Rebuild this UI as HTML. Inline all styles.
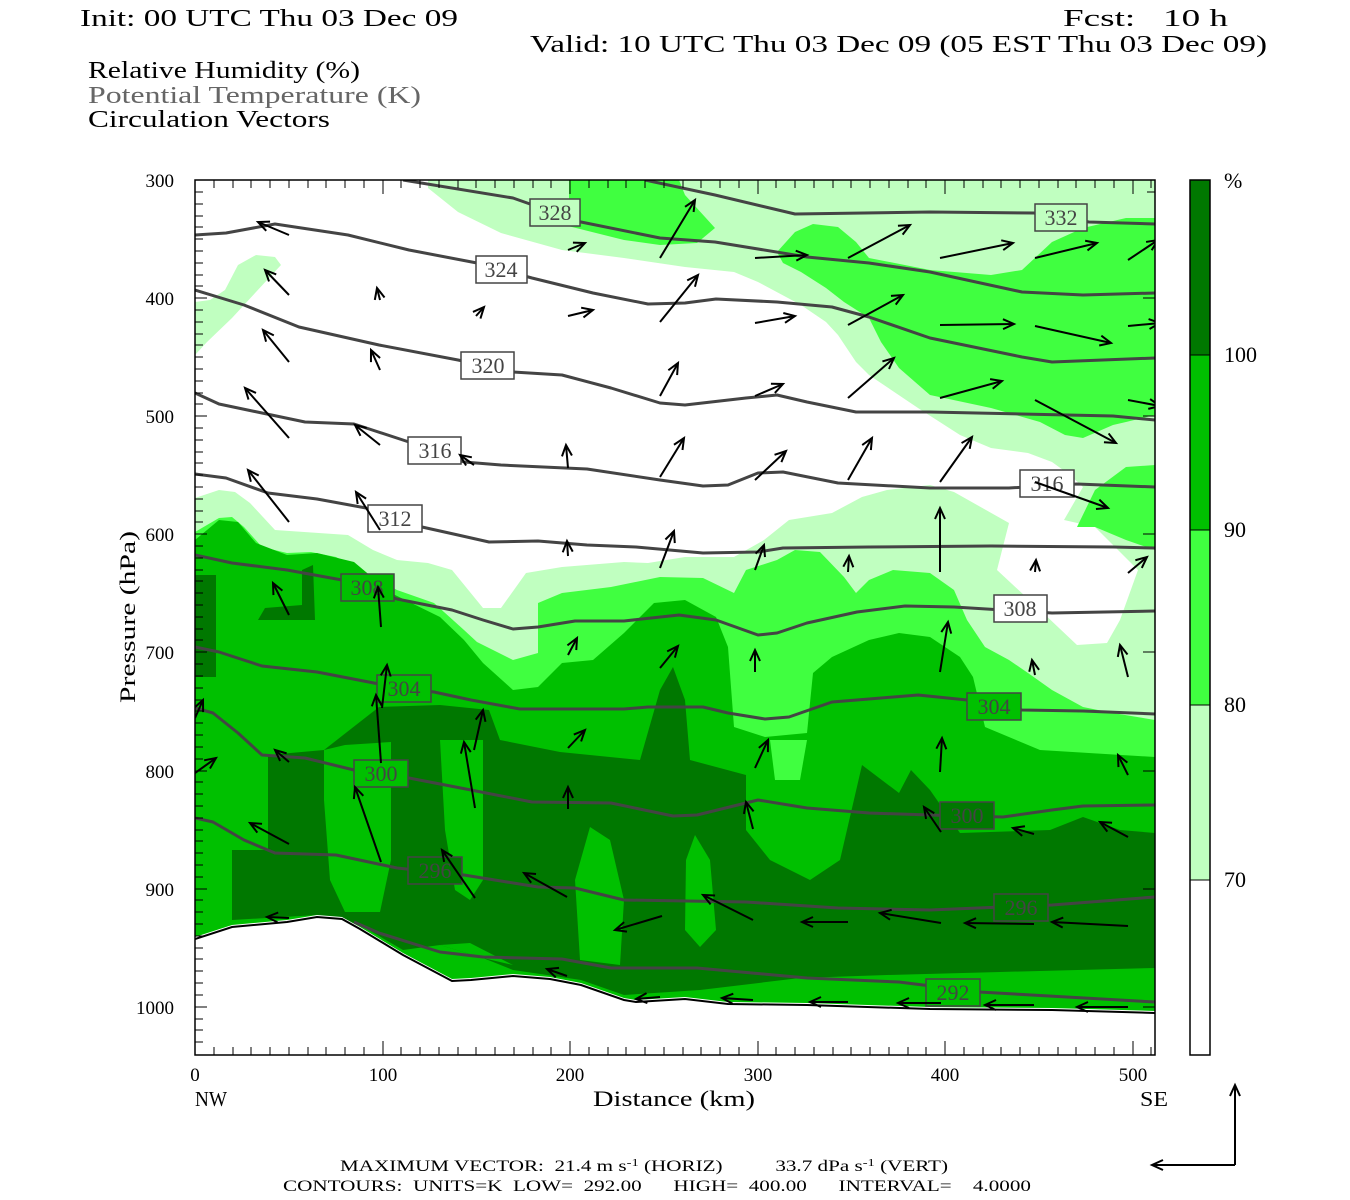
<!DOCTYPE html>
<html><head><meta charset="utf-8"><style>
html,body{margin:0;padding:0;background:#fff;}
svg{display:block;}
text{font-family:"Liberation Serif",serif;fill:#000;}
.lbl{font-size:24px;}
.cl{font-family:"Liberation Serif",serif;font-size:22px;fill:#444;}
.th{fill:none;stroke:#444;stroke-width:3;stroke-linejoin:round;}
.v{stroke:#000;stroke-width:2;fill:none;marker-end:url(#ah);}
</style></head><body>
<svg width="1350" height="1200" viewBox="0 0 1350 1200" xmlns="http://www.w3.org/2000/svg">
<defs>
<marker id="ah" markerUnits="userSpaceOnUse" markerWidth="30" markerHeight="30" refX="15" refY="15" orient="auto">
<path d="M4,10 L15,15 L4,20" fill="none" stroke="#000" stroke-width="2"/>
</marker>
<clipPath id="pc"><rect x="195" y="180" width="960" height="875"/></clipPath>
</defs>

<text class="lbl" x="80" y="26" textLength="378" lengthAdjust="spacingAndGlyphs">Init: 00 UTC Thu 03 Dec 09</text>
<text class="lbl" x="1063" y="26" textLength="165" lengthAdjust="spacingAndGlyphs" xml:space="preserve">Fcst:   10 h</text>
<text class="lbl" x="530" y="52" textLength="737" lengthAdjust="spacingAndGlyphs">Valid: 10 UTC Thu 03 Dec 09 (05 EST Thu 03 Dec 09)</text>
<text class="lbl" x="88" y="78" textLength="272" lengthAdjust="spacingAndGlyphs">Relative Humidity (%)</text>
<text class="lbl" x="88" y="103" textLength="333" lengthAdjust="spacingAndGlyphs" style="fill:#666">Potential Temperature (K)</text>
<text class="lbl" x="88" y="127" textLength="242" lengthAdjust="spacingAndGlyphs">Circulation Vectors</text>

<g clip-path="url(#pc)">
<rect x="195" y="180" width="960" height="875" fill="#c0ffc0"/>
<polygon fill="#fff" points="195,180 428,180 428,188 458,212 501,233 562,250 624,258 685,267 734,272 758,282 801,305 826,322 838,335 856,362 869,375 918,408 960,435 991,448 1028,453 1052,462 1070,475 1083,487 1064,520 1095,527 1138,570 1120,620 1107,643 1077,645 1040,610 997,570 1009,523 954,492 930,485 887,490 862,497 832,513 789,520 764,540 734,557 685,557 648,563 624,562 562,567 526,573 501,608 483,608 452,570 428,563 397,560 373,550 348,535 275,530 250,503 235,492 219,490 195,498 195,355 207,342 232,318 256,292 281,265 275,257 256,255 238,265 225,290 210,300 195,302"/>
<polygon fill="#40ff40" points="569,180 679,180 685,195 715,228 697,243 660,245 624,240 556,223 569,208"/>
<polygon fill="#40ff40" points="777,252 795,232 813,224 838,227 856,242 869,258 930,270 991,275 1022,270 1052,242 1083,228 1126,218 1155,218 1155,415 1126,422 1113,425 1083,438 1065,435 1040,422 991,408 930,395 899,368 881,342 869,318 844,302 826,288 801,272 783,263"/>
<polygon fill="#40ff40" points="1077,527 1095,490 1126,467 1155,465 1155,550 1126,540 1095,527"/>
<polygon fill="#40ff40" points="195,532 219,518 232,517 244,527 262,547 287,553 311,552 336,557 397,590 434,603 464,630 477,642 513,660 538,653 538,603 562,593 611,587 660,577 703,578 734,593 746,570 777,560 795,550 820,552 844,577 856,593 869,580 893,570 930,573 954,590 967,620 985,647 1009,660 1028,673 1052,690 1083,707 1113,713 1155,720 1155,1060 195,1060"/>
<polygon fill="#00c000" points="195,540 219,520 238,522 256,543 287,555 317,553 354,562 391,593 440,617 464,640 483,663 513,690 538,687 562,663 593,660 624,633 654,603 685,600 716,617 728,647 734,727 765,737 807,733 813,673 832,657 869,640 899,633 930,637 960,657 973,677 985,727 1040,750 1089,753 1155,757 1155,1060 195,1060"/>
<polygon fill="#40ff40" points="770,740 807,740 800,780 775,780"/>
<polygon fill="#007800" points="232,920 232,850 268,850 268,755 324,750 379,707 440,705 489,710 500,740 560,752 640,760 660,690 673,667 685,700 690,760 746,775 746,830 770,860 810,880 840,860 862,765 899,793 911,770 930,790 960,833 1050,830 1083,817 1120,830 1155,833 1155,968 1000,972 887,975 800,978 700,990 624,995 581,980 513,970 483,958 440,945 403,950 360,925 317,915"/>
<polygon fill="#007800" points="195,575 216,575 216,677 195,677"/>
<polygon fill="#007800" points="258,620 265,608 302,605 302,570 313,565 315,620"/>
<polygon fill="#00c000" points="324,750 345,745 391,742 391,860 380,912 345,912 330,880 324,800"/>
<polygon fill="#00c000" points="440,740 483,740 483,880 470,900 455,890 445,830"/>
<polygon fill="#00c000" points="590,827 610,840 624,900 620,965 580,960 575,880"/>
<polygon fill="#00c000" points="695,835 710,860 716,930 700,947 685,930 686,860"/>
<polygon fill="#00c000" points="440,945 470,943 513,965 483,958"/>
<polygon fill="#fff" points="195,937 232,925 287,920 317,915 342,917 360,927 403,953 452,979 471,978 513,974 550,977 581,983 624,998 636,1000 685,997 728,1002 807,1003 930,1007 1052,1008 1155,1011 1155,1060 195,1060"/>
<polyline fill="none" stroke="#000" stroke-width="2" points="195,939 232,927 287,922 317,917 342,919 360,929 403,955 452,981 471,980 513,976 550,979 581,985 624,1000 636,1002 685,999 728,1004 807,1005 930,1009 1052,1010 1155,1013"/>

<polyline class="th" points="645,180 715,195 795,214 930,212 1034,213 1089,222 1155,224"/>
<polyline class="th" points="403,180 513,198 581,222 660,238 715,242 807,257 869,263 930,272 1022,292 1083,295 1155,293"/>
<polyline class="th" points="195,235 226,233 275,224 348,235 409,250 477,263 532,278 593,293 648,304 685,303 716,299 777,302 832,307 869,317 930,338 1022,357 1052,362 1155,358"/>
<polyline class="th" points="195,290 244,305 299,327 379,345 458,360 513,372 562,375 611,388 660,403 685,405 746,398 777,395 807,402 856,412 930,412 1113,416 1155,420"/>
<polyline class="th" points="195,393 219,404 305,422 354,424 409,442 435,451 464,462 501,465 587,469 660,480 703,486 728,485 758,473 783,472 838,483 930,488 1009,488 1077,484 1155,487"/>
<polyline class="th" points="195,474 226,478 268,493 317,499 366,508 395,519 422,527 458,535 489,542 538,541 587,545 636,547 703,553 758,552 783,548 869,547 991,546 1113,547 1155,548"/>
<polyline class="th" points="195,555 232,563 287,570 342,580 367,588 397,599 452,610 483,620 513,629 538,627 575,621 624,621 679,615 716,620 758,635 777,633 807,623 857,612 905,606 954,607 1052,613 1155,611"/>
<polyline class="th" points="195,647 219,652 262,666 317,672 379,684 434,692 471,700 520,709 624,709 648,707 703,707 728,713 765,719 789,717 832,702 869,699 918,695 967,700 1022,710 1083,711 1155,714"/>
<polyline class="th" points="195,708 213,713 238,733 262,755 305,758 354,770 409,778 471,790 532,802 611,803 673,816 697,815 758,800 807,808 869,813 930,815 1003,817 1052,810 1083,806 1155,805"/>
<polyline class="th" points="195,818 213,822 244,840 275,853 336,855 397,868 464,875 538,887 575,888 624,900 746,902 838,908 930,910 1052,905 1155,897"/>
<polyline class="th" points="354,922 379,933 440,952 483,957 562,959 611,968 697,968 807,978 899,982 979,992 1155,1002"/>

<g>
<rect x="530" y="199" width="50" height="27" fill="#c0ffc0" stroke="#444" stroke-width="1.5"/><text class="cl" x="555" y="220" text-anchor="middle">328</text>
<rect x="1035" y="204" width="52" height="27" fill="#c0ffc0" stroke="#444" stroke-width="1.5"/><text class="cl" x="1061" y="225" text-anchor="middle">332</text>
<rect x="476" y="256" width="51" height="27" fill="#fff" stroke="#444" stroke-width="1.5"/><text class="cl" x="501" y="277" text-anchor="middle">324</text>
<rect x="461" y="352" width="53" height="27" fill="#fff" stroke="#444" stroke-width="1.5"/><text class="cl" x="488" y="373" text-anchor="middle">320</text>
<rect x="408" y="437" width="53" height="27" fill="#fff" stroke="#444" stroke-width="1.5"/><text class="cl" x="435" y="458" text-anchor="middle">316</text>
<rect x="1020" y="470" width="54" height="27" fill="#fff" stroke="#444" stroke-width="1.5"/><text class="cl" x="1047" y="491" text-anchor="middle">316</text>
<rect x="368" y="505" width="54" height="27" fill="#fff" stroke="#444" stroke-width="1.5"/><text class="cl" x="395" y="526" text-anchor="middle">312</text>
<rect x="341" y="574" width="53" height="27" fill="#00c000" stroke="#444" stroke-width="1.5"/><text class="cl" x="367" y="595" text-anchor="middle">308</text>
<rect x="994" y="595" width="53" height="27" fill="#fff" stroke="#444" stroke-width="1.5"/><text class="cl" x="1020" y="616" text-anchor="middle">308</text>
<rect x="377" y="675" width="54" height="27" fill="#00c000" stroke="#444" stroke-width="1.5"/><text class="cl" x="404" y="696" text-anchor="middle">304</text>
<rect x="967" y="693" width="54" height="27" fill="#00c000" stroke="#444" stroke-width="1.5"/><text class="cl" x="994" y="714" text-anchor="middle">304</text>
<rect x="354" y="760" width="54" height="27" fill="#00c000" stroke="#444" stroke-width="1.5"/><text class="cl" x="381" y="781" text-anchor="middle">300</text>
<rect x="940" y="802" width="54" height="27" fill="#007800" stroke="#444" stroke-width="1.5"/><text class="cl" x="967" y="823" text-anchor="middle">300</text>
<rect x="408" y="857" width="54" height="27" fill="#007800" stroke="#444" stroke-width="1.5"/><text class="cl" x="435" y="878" text-anchor="middle">296</text>
<rect x="994" y="894" width="54" height="27" fill="#007800" stroke="#444" stroke-width="1.5"/><text class="cl" x="1021" y="915" text-anchor="middle">296</text>
<rect x="926" y="979" width="54" height="27" fill="#00c000" stroke="#444" stroke-width="1.5"/><text class="cl" x="953" y="1000" text-anchor="middle">292</text>
</g>

<g>
<line class="v" x1="289" y1="235" x2="258" y2="222"/>
<line class="v" x1="568" y1="250" x2="585" y2="243"/>
<line class="v" x1="660" y1="258" x2="695" y2="200"/>
<line class="v" x1="755" y1="258" x2="807" y2="255"/>
<line class="v" x1="848" y1="258" x2="910" y2="225"/>
<line class="v" x1="940" y1="258" x2="1013" y2="243"/>
<line class="v" x1="1035" y1="258" x2="1097" y2="243"/>
<line class="v" x1="1128" y1="260" x2="1158" y2="240"/>
<line class="v" x1="289" y1="295" x2="265" y2="270"/>
<line class="v" x1="380" y1="300" x2="377" y2="288"/>
<line class="v" x1="476" y1="316" x2="484" y2="307"/>
<line class="v" x1="568" y1="316" x2="593" y2="310"/>
<line class="v" x1="660" y1="322" x2="698" y2="275"/>
<line class="v" x1="755" y1="323" x2="795" y2="316"/>
<line class="v" x1="848" y1="325" x2="903" y2="295"/>
<line class="v" x1="940" y1="325" x2="1014" y2="324"/>
<line class="v" x1="1035" y1="326" x2="1111" y2="343"/>
<line class="v" x1="1128" y1="326" x2="1160" y2="323"/>
<line class="v" x1="289" y1="362" x2="263" y2="330"/>
<line class="v" x1="380" y1="370" x2="371" y2="350"/>
<line class="v" x1="660" y1="396" x2="678" y2="363"/>
<line class="v" x1="755" y1="396" x2="783" y2="384"/>
<line class="v" x1="848" y1="398" x2="894" y2="358"/>
<line class="v" x1="940" y1="398" x2="1002" y2="381"/>
<line class="v" x1="1035" y1="400" x2="1116" y2="443"/>
<line class="v" x1="1128" y1="400" x2="1160" y2="406"/>
<line class="v" x1="289" y1="438" x2="245" y2="388"/>
<line class="v" x1="380" y1="445" x2="355" y2="425"/>
<line class="v" x1="474" y1="465" x2="460" y2="455"/>
<line class="v" x1="568" y1="468" x2="566" y2="445"/>
<line class="v" x1="660" y1="477" x2="684" y2="438"/>
<line class="v" x1="755" y1="480" x2="786" y2="451"/>
<line class="v" x1="848" y1="480" x2="872" y2="438"/>
<line class="v" x1="940" y1="482" x2="972" y2="437"/>
<line class="v" x1="1035" y1="482" x2="1108" y2="508"/>
<line class="v" x1="289" y1="522" x2="248" y2="470"/>
<line class="v" x1="380" y1="530" x2="356" y2="492"/>
<line class="v" x1="568" y1="556" x2="567" y2="541"/>
<line class="v" x1="660" y1="568" x2="674" y2="531"/>
<line class="v" x1="755" y1="570" x2="764" y2="545"/>
<line class="v" x1="848" y1="572" x2="849" y2="556"/>
<line class="v" x1="940" y1="572" x2="940" y2="508"/>
<line class="v" x1="1035" y1="572" x2="1036" y2="560"/>
<line class="v" x1="1128" y1="573" x2="1147" y2="557"/>
<line class="v" x1="289" y1="615" x2="273" y2="583"/>
<line class="v" x1="381" y1="627" x2="378" y2="587"/>
<line class="v" x1="568" y1="655" x2="577" y2="638"/>
<line class="v" x1="660" y1="668" x2="678" y2="646"/>
<line class="v" x1="755" y1="672" x2="755" y2="650"/>
<line class="v" x1="940" y1="672" x2="948" y2="622"/>
<line class="v" x1="1035" y1="675" x2="1032" y2="660"/>
<line class="v" x1="1128" y1="677" x2="1120" y2="645"/>
<line class="v" x1="195" y1="718" x2="203" y2="700"/>
<line class="v" x1="382" y1="708" x2="387" y2="665"/>
<line class="v" x1="381" y1="763" x2="376" y2="695"/>
<line class="v" x1="475" y1="808" x2="464" y2="742"/>
<line class="v" x1="474" y1="750" x2="483" y2="710"/>
<line class="v" x1="568" y1="748" x2="585" y2="730"/>
<line class="v" x1="755" y1="768" x2="768" y2="740"/>
<line class="v" x1="940" y1="772" x2="942" y2="738"/>
<line class="v" x1="1128" y1="775" x2="1118" y2="755"/>
<line class="v" x1="195" y1="773" x2="216" y2="758"/>
<line class="v" x1="289" y1="762" x2="275" y2="750"/>
<line class="v" x1="381" y1="862" x2="355" y2="787"/>
<line class="v" x1="568" y1="809" x2="568" y2="787"/>
<line class="v" x1="753" y1="829" x2="746" y2="802"/>
<line class="v" x1="941" y1="832" x2="924" y2="807"/>
<line class="v" x1="1034" y1="834" x2="1013" y2="828"/>
<line class="v" x1="1128" y1="837" x2="1100" y2="822"/>
<line class="v" x1="289" y1="844" x2="250" y2="823"/>
<line class="v" x1="475" y1="898" x2="442" y2="850"/>
<line class="v" x1="567" y1="897" x2="524" y2="873"/>
<line class="v" x1="662" y1="916" x2="615" y2="930"/>
<line class="v" x1="753" y1="920" x2="703" y2="895"/>
<line class="v" x1="848" y1="922" x2="802" y2="922"/>
<line class="v" x1="941" y1="923" x2="880" y2="913"/>
<line class="v" x1="1034" y1="924" x2="965" y2="923"/>
<line class="v" x1="1128" y1="926" x2="1052" y2="922"/>
<line class="v" x1="289" y1="918" x2="267" y2="917"/>
<line class="v" x1="567" y1="976" x2="547" y2="969"/>
<line class="v" x1="660" y1="997" x2="636" y2="999"/>
<line class="v" x1="753" y1="1000" x2="722" y2="998"/>
<line class="v" x1="848" y1="1002" x2="810" y2="1002"/>
<line class="v" x1="941" y1="1003" x2="898" y2="1003"/>
<line class="v" x1="1034" y1="1005" x2="985" y2="1005"/>
<line class="v" x1="1128" y1="1007" x2="1077" y2="1007"/>
</g>
</g>

<rect x="195" y="180" width="960" height="875" fill="none" stroke="#000" stroke-width="1.5"/>
<path stroke="#000" stroke-width="1" d="
M195,192h8M195,204h8M195,216h8M195,227h8M195,239h8M195,251h8M195,263h8M195,275h8M195,286h8M195,298h12
M195,310h8M195,322h8M195,334h8M195,345h8M195,357h8M195,369h8M195,381h8M195,393h8M195,404h8M195,416h12
M195,428h8M195,440h8M195,452h8M195,463h8M195,475h8M195,487h8M195,499h8M195,511h8M195,522h8M195,534h12
M195,546h8M195,558h8M195,570h8M195,581h8M195,593h8M195,605h8M195,617h8M195,629h8M195,640h8M195,652h12
M195,664h8M195,676h8M195,688h8M195,700h8M195,711h8M195,723h8M195,735h8M195,747h8M195,759h8M195,771h12
M195,782h8M195,794h8M195,806h8M195,818h8M195,830h8M195,841h8M195,853h8M195,865h8M195,877h8M195,889h12
M195,900h8M195,912h8M195,924h8M195,936h8M195,948h8M195,959h8M195,971h8M195,983h8M195,995h8M195,1007h12
M195,1019h8M195,1030h8M195,1042h8"/>
<g stroke="#000" stroke-width="1">
<path d="M214,180v8M233,180v8M251,180v8M270,180v8M289,180v8M308,180v8M326,180v8M345,180v8M364,180v8M383,180v14M401,180v8M420,180v8M439,180v8M458,180v8M476,180v8M495,180v8M514,180v8M533,180v8M551,180v8M570,180v14M589,180v8M608,180v8M626,180v8M645,180v8M664,180v8M683,180v8M701,180v8M720,180v8M739,180v8M758,180v14M776,180v8M795,180v8M814,180v8M833,180v8M851,180v8M870,180v8M889,180v8M908,180v8M926,180v8M945,180v14M964,180v8M983,180v8M1001,180v8M1020,180v8M1039,180v8M1058,180v8M1076,180v8M1095,180v8M1114,180v8M1133,180v14M1151,180v8"/>
<path d="M214,1055v-8M233,1055v-8M251,1055v-8M270,1055v-8M289,1055v-8M308,1055v-8M326,1055v-8M345,1055v-8M364,1055v-8M383,1055v-14M401,1055v-8M420,1055v-8M439,1055v-8M458,1055v-8M476,1055v-8M495,1055v-8M514,1055v-8M533,1055v-8M551,1055v-8M570,1055v-14M589,1055v-8M608,1055v-8M626,1055v-8M645,1055v-8M664,1055v-8M683,1055v-8M701,1055v-8M720,1055v-8M739,1055v-8M758,1055v-14M776,1055v-8M795,1055v-8M814,1055v-8M833,1055v-8M851,1055v-8M870,1055v-8M889,1055v-8M908,1055v-8M926,1055v-8M945,1055v-14M964,1055v-8M983,1055v-8M1001,1055v-8M1020,1055v-8M1039,1055v-8M1058,1055v-8M1076,1055v-8M1095,1055v-8M1114,1055v-8M1133,1055v-14M1151,1055v-8"/>
<path d="M1155,192h-8M1155,298h-12M1155,416h-12M1155,534h-12M1155,652h-12M1155,771h-12M1155,889h-12M1155,1007h-12"/>
</g>

<g style="font-size:19px">
<text x="174" y="187" text-anchor="end">300</text>
<text x="174" y="305" text-anchor="end">400</text>
<text x="174" y="423" text-anchor="end">500</text>
<text x="174" y="541" text-anchor="end">600</text>
<text x="174" y="659" text-anchor="end">700</text>
<text x="174" y="778" text-anchor="end">800</text>
<text x="174" y="896" text-anchor="end">900</text>
<text x="174" y="1014" text-anchor="end">1000</text>
<text x="195" y="1081" text-anchor="middle">0</text>
<text x="383" y="1081" text-anchor="middle">100</text>
<text x="570" y="1081" text-anchor="middle">200</text>
<text x="758" y="1081" text-anchor="middle">300</text>
<text x="945" y="1081" text-anchor="middle">400</text>
<text x="1133" y="1081" text-anchor="middle">500</text>
</g>
<text x="195" y="1106" style="font-size:21px" textLength="32" lengthAdjust="spacingAndGlyphs">NW</text>
<text x="1140" y="1106" style="font-size:21px" textLength="28" lengthAdjust="spacingAndGlyphs">SE</text>
<text x="593" y="1106" style="font-size:22px" textLength="162" lengthAdjust="spacingAndGlyphs">Distance (km)</text>
<text transform="translate(135,617) rotate(-90)" text-anchor="middle" style="font-size:22px" textLength="172" lengthAdjust="spacingAndGlyphs">Pressure (hPa)</text>

<rect x="1190" y="180" width="20" height="175" fill="#007800"/>
<rect x="1190" y="355" width="20" height="175" fill="#00c000"/>
<rect x="1190" y="530" width="20" height="175" fill="#40ff40"/>
<rect x="1190" y="705" width="20" height="175" fill="#c0ffc0"/>
<rect x="1190" y="880" width="20" height="175" fill="#fff"/>
<path d="M1190,355h20M1190,530h20M1190,705h20M1190,880h20" stroke="#000" stroke-width="1"/>
<rect x="1190" y="180" width="20" height="875" fill="none" stroke="#000" stroke-width="1.5"/>
<g style="font-size:22px">
<text x="1224" y="188">%</text>
<text x="1224" y="362">100</text>
<text x="1224" y="537">90</text>
<text x="1224" y="712">80</text>
<text x="1224" y="887">70</text>
</g>

<text x="340" y="1171" style="font-size:16px" textLength="608" lengthAdjust="spacingAndGlyphs" xml:space="preserve">MAXIMUM VECTOR:  21.4 m s<tspan dy="-5" style="font-size:11px">-1</tspan><tspan dy="5"> (HORIZ)          33.7 dPa s</tspan><tspan dy="-5" style="font-size:11px">-1</tspan><tspan dy="5"> (VERT)</tspan></text>
<text x="283" y="1191" style="font-size:16px" textLength="748" lengthAdjust="spacingAndGlyphs" xml:space="preserve">CONTOURS:  UNITS=K  LOW=  292.00      HIGH=  400.00      INTERVAL=    4.0000</text>

<line x1="1235" y1="1165" x2="1152" y2="1165" stroke="#000" stroke-width="2" marker-end="url(#ah)"/>
<line x1="1235" y1="1165" x2="1235" y2="1085" stroke="#000" stroke-width="2" marker-end="url(#ah)"/>
</svg>
</body></html>
